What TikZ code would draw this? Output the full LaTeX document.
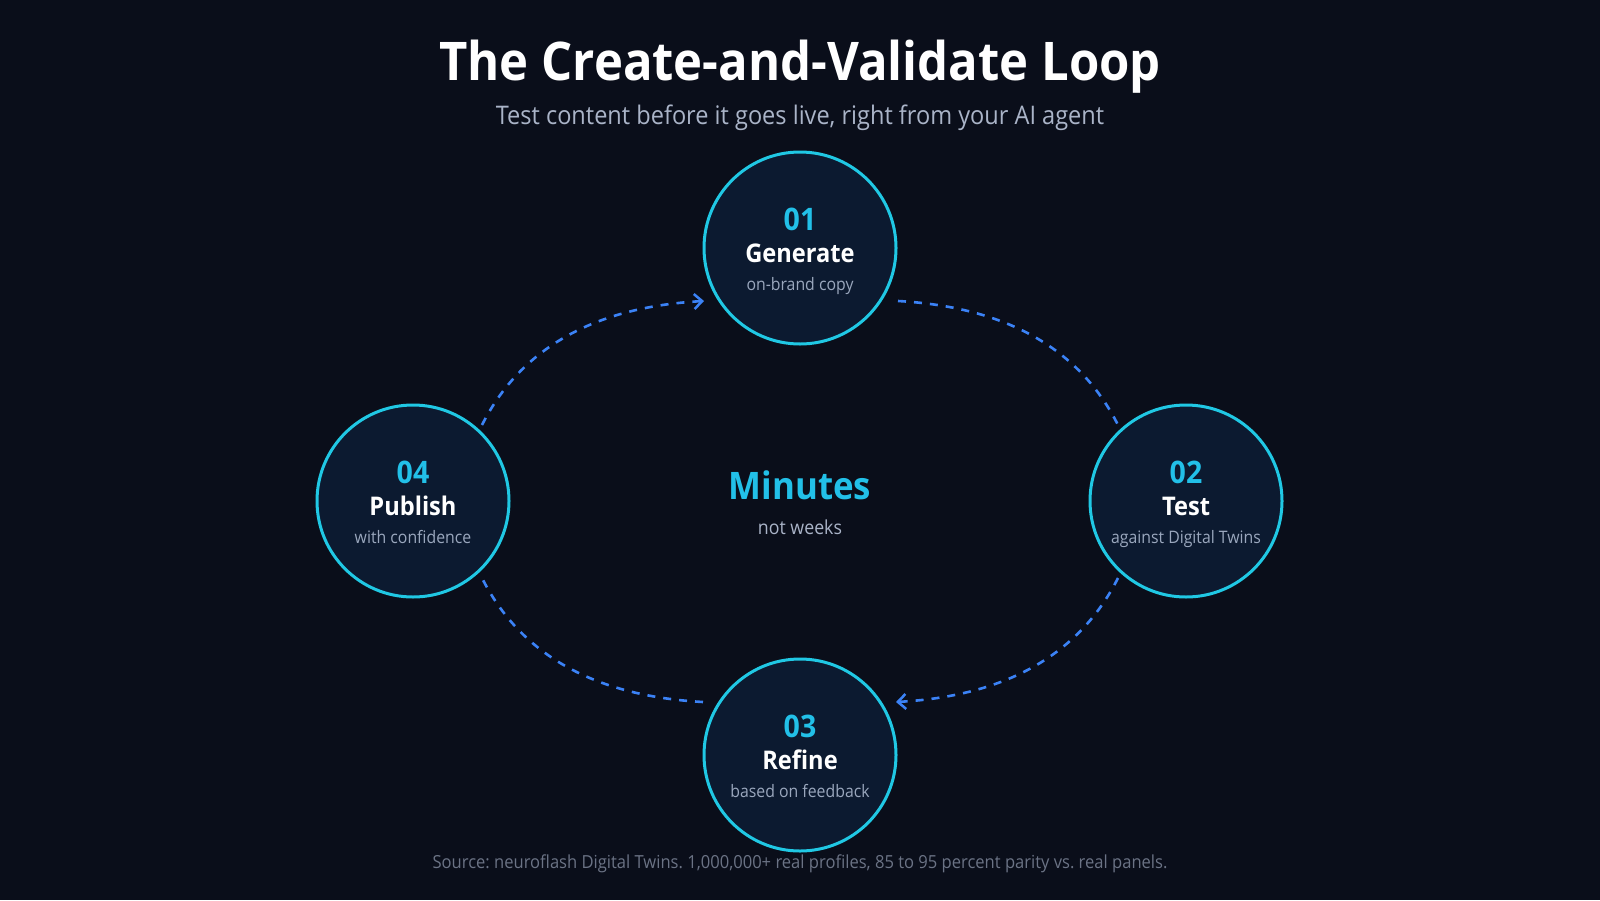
\documentclass[tikz,border=0pt]{standalone}
\usepackage{fontspec}
\setmainfont{Open Sans}[FakeStretch=0.92]
\usetikzlibrary{arrows.meta}
\definecolor{bg}{HTML}{0A0E1A}
\definecolor{cfill}{HTML}{0C1A30}
\definecolor{cstroke}{HTML}{20C8E4}
\definecolor{numcol}{HTML}{22C0E8}
\definecolor{dashblue}{HTML}{3B82F6}
\definecolor{subcol}{HTML}{AAB4C8}
\definecolor{smallcol}{HTML}{9AA7BD}
\definecolor{srccol}{HTML}{6B7385}
\tikzset{
  stage/.style={circle, draw=cstroke, fill=cfill, line width=3pt, minimum size=192pt, inner sep=0pt},
  numtxt/.style={anchor=base, text=numcol, font=\fontsize{31}{33}\selectfont\bfseries},
  ttltxt/.style={anchor=base, text=white, font=\fontsize{25.7}{28}\selectfont\bfseries},
  smalltxt/.style={anchor=base, text=smallcol, font=\fontsize{17.2}{19}\selectfont},
  flow/.style={draw=dashblue, line width=2.6pt, dash pattern=on 8pt off 8pt},
  flowarrow/.style={flow, -{Straight Barb[length=8pt,width=15pt,line width=2.5pt]}}
}
\begin{document}
\frenchspacing
\begin{tikzpicture}[x=1pt,y=-1pt]
\fill[bg] (0,0) rectangle (1600,900);
\useasboundingbox (0,0) rectangle (1600,900);

\node[anchor=base, text=white, font=\fontsize{53.3}{58}\selectfont\bfseries] (title) at (800,80) {The Create-and-Validate Loop};
\node[anchor=base, text=subcol, font=\fontsize{25.6}{28}\selectfont] (subtitle) at (800,124) {Test content before it goes live, right from your AI agent};

\node[stage] (n1) at (800,248) {};
\node[stage] (n2) at (1186,501) {};
\node[stage] (n3) at (800,755) {};
\node[stage] (n4) at (413,501) {};

\foreach \n/\x/\y/\num/\ttl/\sub in {n1/800/248/01/Generate/on-brand copy, n2/1186/501/02/Test/against Digital Twins, n3/800/755/03/Refine/based on feedback, n4/413/501/04/Publish/with confidence}{
  \node[numtxt] (\n num) at (\x,\y-18) {\num};
  \node[ttltxt] (\n ttl) at (\x,\y+14) {\ttl};
  \node[smalltxt] (\n sub) at (\x,\y+42) {\sub};
}

\node[anchor=base, text=numcol, font=\fontsize{37.9}{42}\selectfont\bfseries] (minutes) at (800,499) {Minutes};
\node[anchor=base, text=subcol, font=\fontsize{19.3}{21}\selectfont] (weeks) at (800,534) {not weeks};

\coordinate (a4s) at (482,425);
\coordinate (a1e) at (704,301);
\coordinate (a1s) at (898,301);
\coordinate (a2e) at (1118,425);
\coordinate (a2s) at (1118,578);
\coordinate (a3e) at (896,702);
\coordinate (a3s) at (703,702);
\coordinate (a4e) at (482,578);

\draw[flowarrow] (a4s) .. controls (520.7,348.3) and (594.3,307) .. (a1e);
\draw[flow] (a1s) .. controls (1005.7,307) and (1079.3,348.3) .. (a2e);
\draw[flowarrow] (a2s) .. controls (1079.3,654.7) and (1005.7,696) .. (a3e);
\draw[flow] (a3s) .. controls (594.3,696) and (520.7,654.7) .. (a4e);

\node[anchor=base, text=srccol, font=\fontsize{18}{20}\selectfont] (source) at (800,868) {Source: neuroflash Digital Twins. 1,000,000+ real profiles, 85 to 95 percent parity vs. real panels.};
\end{tikzpicture}
\end{document}
